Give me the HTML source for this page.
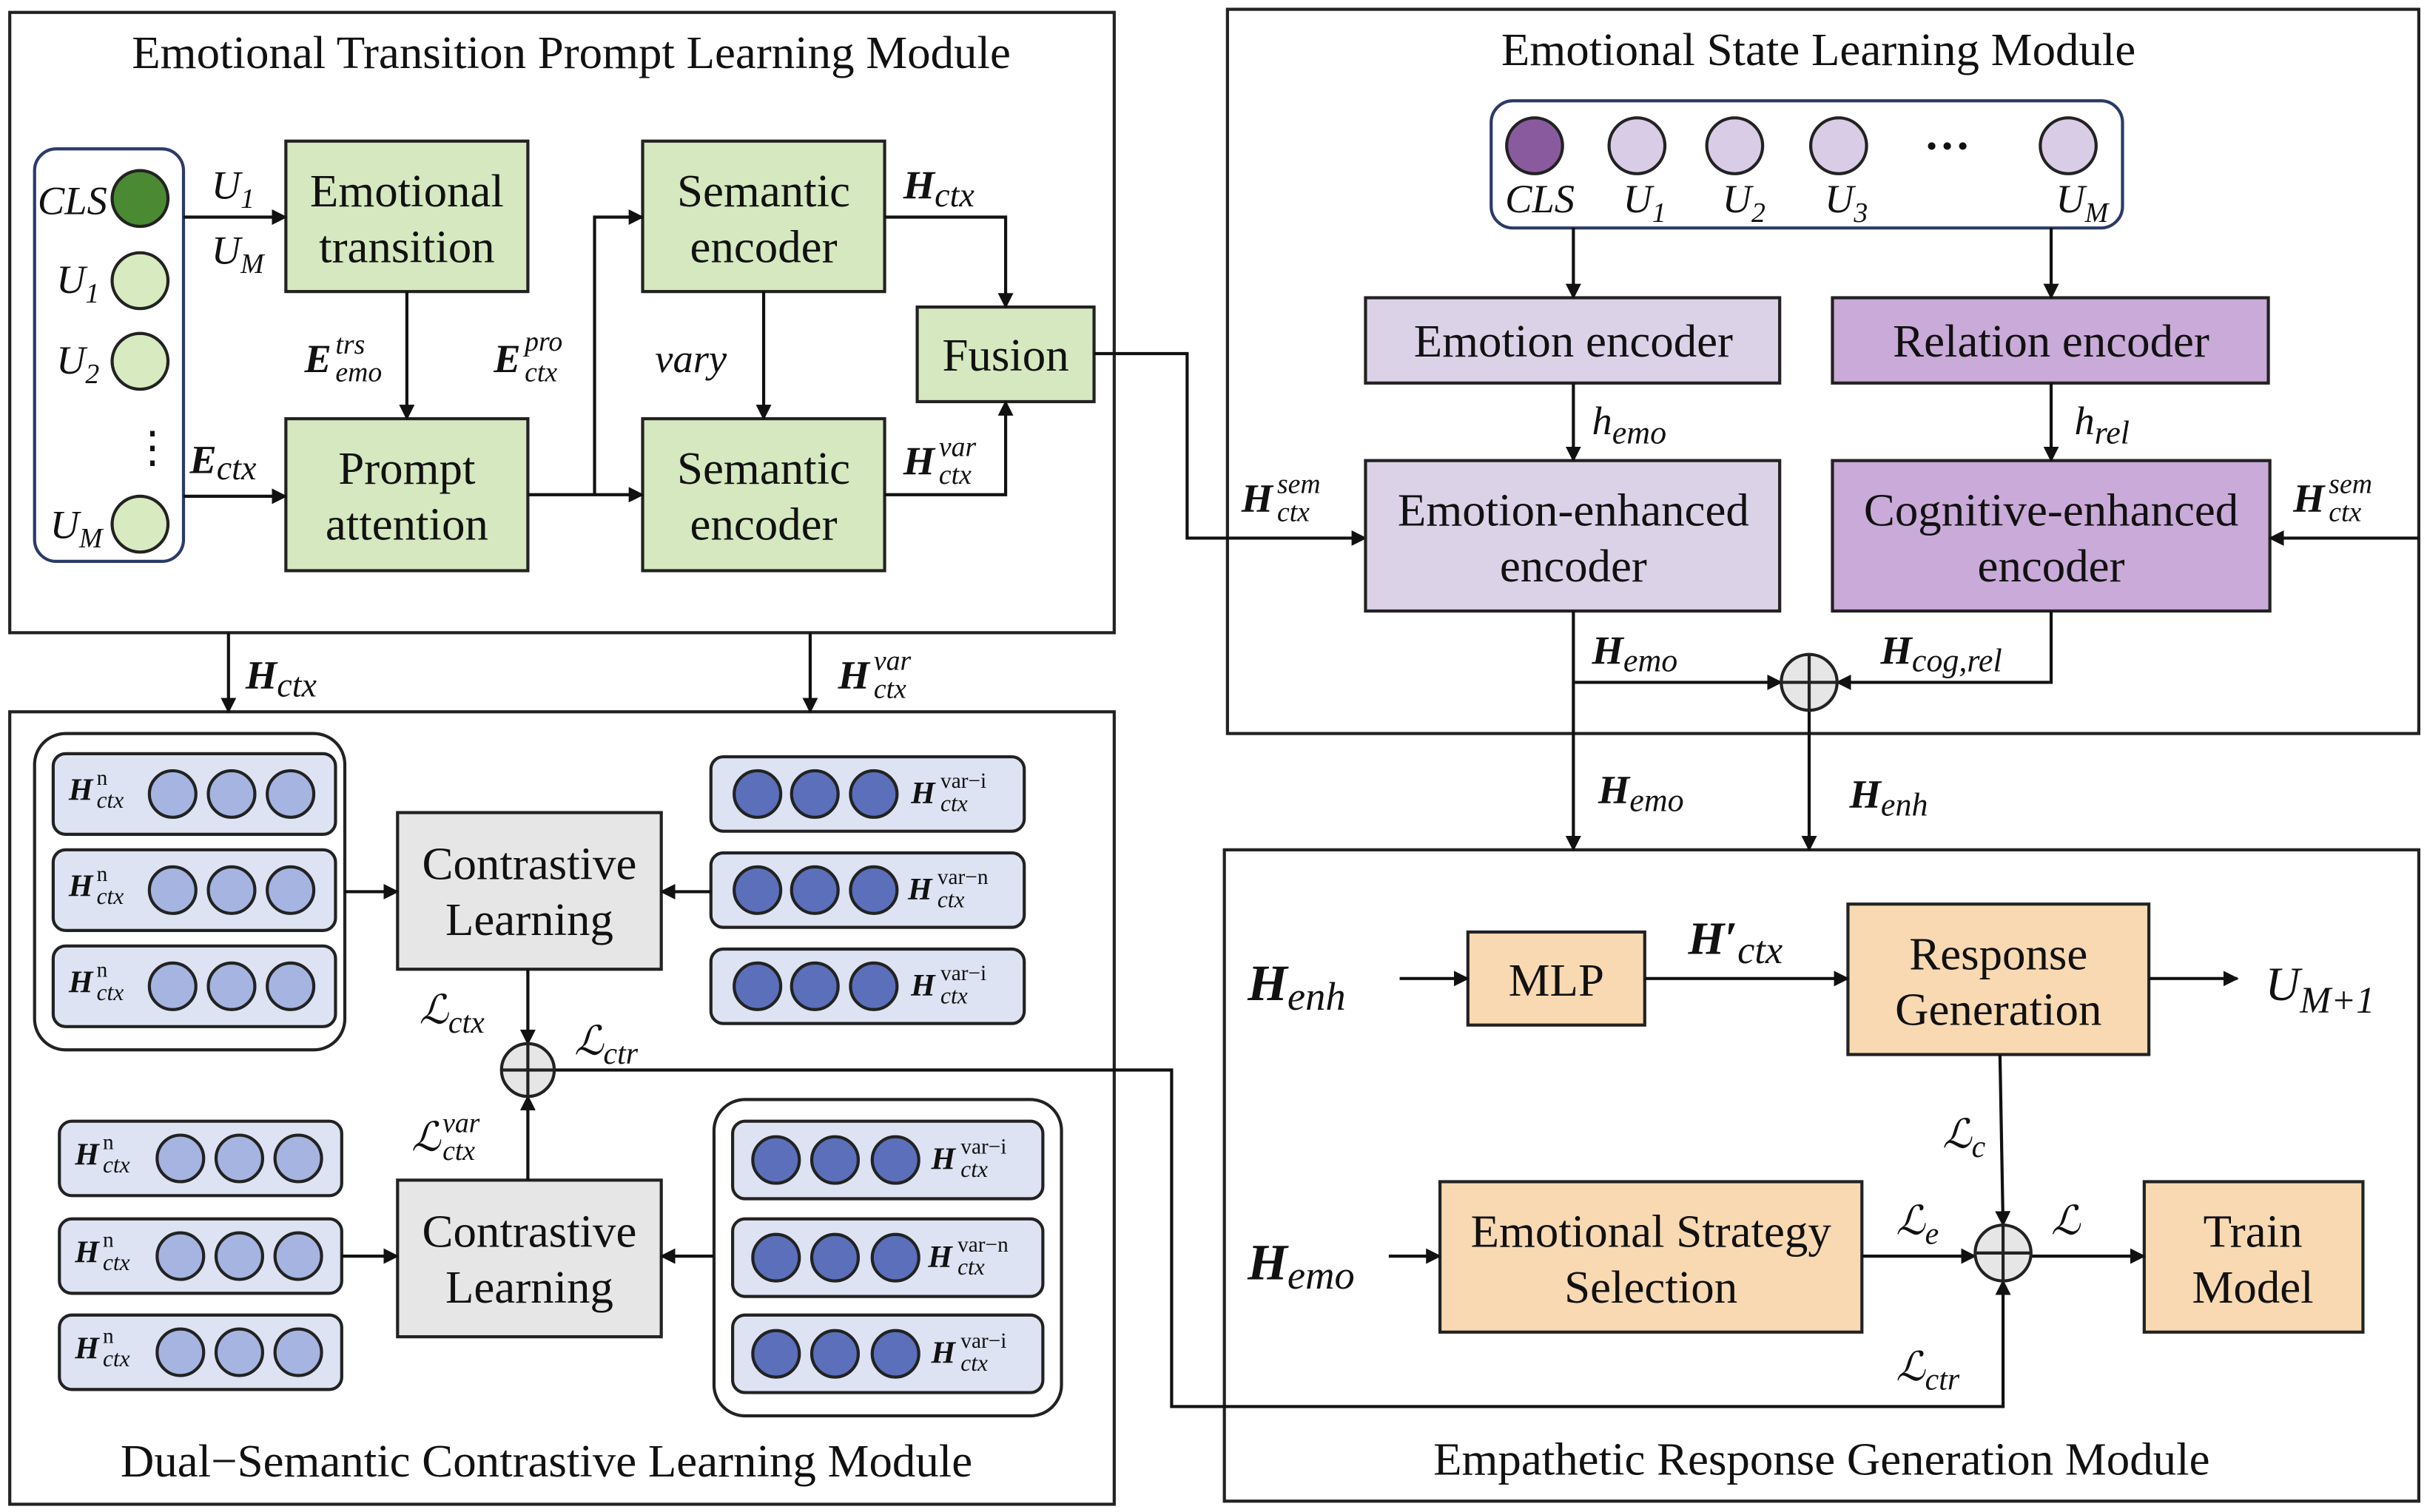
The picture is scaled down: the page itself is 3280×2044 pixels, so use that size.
<!DOCTYPE html>
<html><head><meta charset="utf-8"><style>
html,body{margin:0;padding:0;background:#fff;}
svg{display:block;}
text{font-family:"Liberation Serif","DejaVu Serif",serif;fill:#111;}
.t{font-size:30px;text-anchor:middle;}
.m{font-style:italic;font-size:26px;}
.b{font-weight:bold;font-style:italic;}
.s{font-size:18px;font-style:italic;}
</style></head><body>
<svg width="3280" height="2044" viewBox="0 0 1564 975" xmlns="http://www.w3.org/2000/svg" font-family="Liberation Serif, serif">
<defs><marker id="a" markerWidth="10" markerHeight="10" refX="9" refY="5" orient="auto" markerUnits="userSpaceOnUse"><path d="M0,0 L10,5 L0,10 z" fill="#111"/></marker></defs>
<g fill="none" stroke="#222" stroke-width="2">
<rect x="6" y="8" width="712" height="400"/>
<rect x="6" y="459" width="712" height="511"/>
<rect x="791" y="6" width="768" height="467"/>
<rect x="789" y="548" width="770" height="420"/>
<rect x="22" y="96" width="96" height="266" rx="14" stroke="#2b3a6a"/>
<rect x="961" y="65" width="407" height="82" rx="14" stroke="#2b3a6a"/>
<rect x="22" y="473" width="200" height="204" rx="20"/>
<rect x="460" y="709" width="224" height="204" rx="20"/>
</g>
<text class="t" x="368" y="44">Emotional Transition Prompt Learning Module</text>
<text class="t" x="352" y="952">Dual−Semantic Contrastive Learning Module</text>
<text class="t" x="1172" y="42">Emotional State Learning Module</text>
<text class="t" x="1174" y="951">Empathetic Response Generation Module</text>

<g stroke="#222" stroke-width="2">
<circle cx="90" cy="128" r="18" fill="#4a8a32"/>
<circle cx="90" cy="181" r="18" fill="#d7eac0"/>
<circle cx="90" cy="233" r="18" fill="#d7eac0"/>
<circle cx="90" cy="338" r="18" fill="#d7eac0"/>
</g>
<text class="m" x="24" y="138">CLS</text>
<text class="m" x="36" y="189">U<tspan class="s" dy="6">1</tspan></text>
<text class="m" x="36" y="241">U<tspan class="s" dy="6">2</tspan></text>
<text x="84" y="298" style="font-size:28px">⋮</text>
<text class="m" x="32" y="347">U<tspan class="s" dy="6">M</tspan></text>

<g stroke="#222" stroke-width="2" fill="#d5e8bf">
<rect x="184" y="91" width="156" height="97"/>
<rect x="184" y="270" width="156" height="98"/>
<rect x="414" y="91" width="156" height="97"/>
<rect x="414" y="270" width="156" height="98"/>
<rect x="591" y="198" width="114" height="61"/>
</g>
<text class="t" x="262" y="133">Emotional</text><text class="t" x="262" y="169">transition</text>
<text class="t" x="262" y="312">Prompt</text><text class="t" x="262" y="348">attention</text>
<text class="t" x="492" y="133">Semantic</text><text class="t" x="492" y="169">encoder</text>
<text class="t" x="492" y="312">Semantic</text><text class="t" x="492" y="348">encoder</text>
<text class="t" x="648" y="239">Fusion</text>

<g stroke="#111" stroke-width="2" fill="none" marker-end="url(#a)">
<path d="M118,140 H184"/>
<path d="M118,320 H184"/>
<path d="M262,188 V270"/>
<path d="M340,319 H414"/>
<path d="M383,319 V140 H414"/>
<path d="M492,188 V270"/>
<path d="M570,140 H648 V198"/>
<path d="M570,319 H648 V259"/>
<path d="M705,228 H765 V347 H880"/>
<path d="M147,408 V459"/>
<path d="M522,408 V459"/>
</g>
<text class="m" x="136" y="128">U<tspan class="s" dy="6">1</tspan></text>
<text class="m" x="136" y="170">U<tspan class="s" dy="6">M</tspan></text>
<text class="m b" x="122" y="305">E<tspan class="s" dy="4" style="font-size:22px;font-weight:normal">ctx</tspan></text>
<text class="m b" x="196" y="240">E</text><text class="s" x="216" y="228">trs</text><text class="s" x="216" y="246">emo</text>
<text class="m b" x="318" y="240">E</text><text class="s" x="338" y="226">pro</text><text class="s" x="338" y="246">ctx</text>
<text class="m" x="422" y="240">vary</text>
<text class="m b" x="582" y="128">H<tspan class="s" dy="5" style="font-size:22px;font-weight:normal">ctx</tspan></text>
<text class="m b" x="582" y="306">H</text><text class="s" x="605" y="294">var</text><text class="s" x="605" y="312">ctx</text>
<text class="m b" x="158" y="444">H<tspan class="s" dy="5" style="font-size:22px;font-weight:normal">ctx</tspan></text>
<text class="m b" x="540" y="444">H</text><text class="s" x="563" y="432">var</text><text class="s" x="563" y="450">ctx</text>

<g stroke="#222" stroke-width="2">
<rect x="34" y="486" width="182" height="52" rx="8" fill="#dde3f2"/>
<rect x="34" y="548" width="182" height="52" rx="8" fill="#dde3f2"/>
<rect x="34" y="610" width="182" height="52" rx="8" fill="#dde3f2"/>
<rect x="458" y="488" width="202" height="48" rx="8" fill="#dde3f2"/>
<rect x="458" y="550" width="202" height="48" rx="8" fill="#dde3f2"/>
<rect x="458" y="612" width="202" height="48" rx="8" fill="#dde3f2"/>
<rect x="38" y="723" width="182" height="48" rx="8" fill="#dde3f2"/>
<rect x="38" y="786" width="182" height="48" rx="8" fill="#dde3f2"/>
<rect x="38" y="848" width="182" height="48" rx="8" fill="#dde3f2"/>
<rect x="472" y="723" width="200" height="50" rx="8" fill="#dde3f2"/>
<rect x="472" y="786" width="200" height="50" rx="8" fill="#dde3f2"/>
<rect x="472" y="848" width="200" height="50" rx="8" fill="#dde3f2"/>
<g fill="#a5b4e0">
<circle cx="111" cy="512" r="15"/><circle cx="149" cy="512" r="15"/><circle cx="187" cy="512" r="15"/>
<circle cx="111" cy="574" r="15"/><circle cx="149" cy="574" r="15"/><circle cx="187" cy="574" r="15"/>
<circle cx="111" cy="636" r="15"/><circle cx="149" cy="636" r="15"/><circle cx="187" cy="636" r="15"/>
<circle cx="116" cy="747" r="15"/><circle cx="154" cy="747" r="15"/><circle cx="192" cy="747" r="15"/>
<circle cx="116" cy="810" r="15"/><circle cx="154" cy="810" r="15"/><circle cx="192" cy="810" r="15"/>
<circle cx="116" cy="872" r="15"/><circle cx="154" cy="872" r="15"/><circle cx="192" cy="872" r="15"/>
</g>
<g fill="#5b6fba">
<circle cx="488" cy="512" r="15"/><circle cx="525" cy="512" r="15"/><circle cx="563" cy="512" r="15"/>
<circle cx="488" cy="574" r="15"/><circle cx="525" cy="574" r="15"/><circle cx="563" cy="574" r="15"/>
<circle cx="488" cy="636" r="15"/><circle cx="525" cy="636" r="15"/><circle cx="563" cy="636" r="15"/>
<circle cx="500" cy="748" r="15"/><circle cx="538" cy="748" r="15"/><circle cx="577" cy="748" r="15"/>
<circle cx="500" cy="811" r="15"/><circle cx="538" cy="811" r="15"/><circle cx="577" cy="811" r="15"/>
<circle cx="500" cy="873" r="15"/><circle cx="538" cy="873" r="15"/><circle cx="577" cy="873" r="15"/>
</g>
<rect x="256" y="524" width="170" height="101" fill="#e6e6e6"/>
<rect x="256" y="761" width="170" height="101" fill="#e6e6e6"/>
</g>
<g style="font-size:20px">
<text x="44" y="516" class="b">H</text><text x="62" y="506" style="font-size:14px">n</text><text x="62" y="521" class="s" style="font-size:15px">ctx</text>
<text x="44" y="578" class="b">H</text><text x="62" y="568" style="font-size:14px">n</text><text x="62" y="583" class="s" style="font-size:15px">ctx</text>
<text x="44" y="640" class="b">H</text><text x="62" y="630" style="font-size:14px">n</text><text x="62" y="645" class="s" style="font-size:15px">ctx</text>
<text x="48" y="751" class="b">H</text><text x="66" y="741" style="font-size:14px">n</text><text x="66" y="756" class="s" style="font-size:15px">ctx</text>
<text x="48" y="814" class="b">H</text><text x="66" y="804" style="font-size:14px">n</text><text x="66" y="819" class="s" style="font-size:15px">ctx</text>
<text x="48" y="876" class="b">H</text><text x="66" y="866" style="font-size:14px">n</text><text x="66" y="881" class="s" style="font-size:15px">ctx</text>
<text x="587" y="518" class="b">H</text><text x="606" y="508" style="font-size:14px">var−i</text><text x="606" y="523" class="s" style="font-size:15px">ctx</text>
<text x="585" y="580" class="b">H</text><text x="604" y="570" style="font-size:14px">var−n</text><text x="604" y="585" class="s" style="font-size:15px">ctx</text>
<text x="587" y="642" class="b">H</text><text x="606" y="632" style="font-size:14px">var−i</text><text x="606" y="647" class="s" style="font-size:15px">ctx</text>
<text x="600" y="754" class="b">H</text><text x="619" y="744" style="font-size:14px">var−i</text><text x="619" y="759" class="s" style="font-size:15px">ctx</text>
<text x="598" y="817" class="b">H</text><text x="617" y="807" style="font-size:14px">var−n</text><text x="617" y="822" class="s" style="font-size:15px">ctx</text>
<text x="600" y="879" class="b">H</text><text x="619" y="869" style="font-size:14px">var−i</text><text x="619" y="884" class="s" style="font-size:15px">ctx</text>
</g>
<text class="t" x="341" y="567">Contrastive</text><text class="t" x="341" y="603">Learning</text>
<text class="t" x="341" y="804">Contrastive</text><text class="t" x="341" y="840">Learning</text>

<g stroke="#111" stroke-width="2" fill="none" marker-end="url(#a)">
<path d="M222,575 H256"/>
<path d="M458,575 H426"/>
<path d="M220,810 H256"/>
<path d="M460,810 H426"/>
<path d="M340,625 V673"/>
<path d="M340,761 V707"/>
<path d="M357,690 H755 V907 H1291 V826"/>
</g>
<circle cx="340" cy="690" r="17" fill="#e6e6e6" stroke="#222" stroke-width="2"/>
<path d="M323,690 H357 M340,673 V707" stroke="#222" stroke-width="2"/>
<text class="m" x="270" y="660">ℒ<tspan class="s" dy="6" style="font-size:20px">ctx</tspan></text>
<text class="m" x="370" y="680">ℒ<tspan class="s" dy="6" style="font-size:20px">ctr</tspan></text>
<text class="m" x="265" y="742">ℒ</text><text class="s" x="285" y="730">var</text><text class="s" x="285" y="748">ctx</text>

<g stroke="#222" stroke-width="2">
<circle cx="989" cy="94" r="18" fill="#8a5a9e"/>
<circle cx="1055" cy="94" r="18" fill="#d8cce6"/>
<circle cx="1118" cy="94" r="18" fill="#d8cce6"/>
<circle cx="1185" cy="94" r="18" fill="#d8cce6"/>
<circle cx="1333" cy="94" r="18" fill="#d8cce6"/>
<rect x="880" y="192" width="267" height="55" fill="#dcd2e8"/>
<rect x="1181" y="192" width="281" height="55" fill="#c9aad8"/>
<rect x="880" y="297" width="267" height="97" fill="#dcd2e8"/>
<rect x="1181" y="297" width="282" height="97" fill="#c9aad8"/>
</g>
<text x="1240" y="104" style="font-size:30px;font-weight:bold">···</text>
<text class="m" x="970" y="137">CLS</text>
<text class="m" x="1046" y="137">U<tspan class="s" dy="6">1</tspan></text>
<text class="m" x="1110" y="137">U<tspan class="s" dy="6">2</tspan></text>
<text class="m" x="1176" y="137">U<tspan class="s" dy="6">3</tspan></text>
<text class="m" x="1325" y="137">U<tspan class="s" dy="6">M</tspan></text>
<text class="t" x="1014" y="230">Emotion encoder</text>
<text class="t" x="1322" y="230">Relation encoder</text>
<text class="t" x="1014" y="339">Emotion-enhanced</text><text class="t" x="1014" y="375">encoder</text>
<text class="t" x="1322" y="339">Cognitive-enhanced</text><text class="t" x="1322" y="375">encoder</text>
<g stroke="#111" stroke-width="2" fill="none" marker-end="url(#a)">
<path d="M1014,147 V192"/>
<path d="M1322,147 V192"/>
<path d="M1014,247 V297"/>
<path d="M1322,247 V297"/>
<path d="M1559,347 H1463"/>
<path d="M1014,394 V548"/>
<path d="M1014,440 H1148"/>
<path d="M1322,394 V440 H1184"/>
<path d="M1166,458 V548"/>
</g>
<circle cx="1166" cy="440" r="18" fill="#e6e6e6" stroke="#222" stroke-width="2"/>
<path d="M1148,440 H1184 M1166,422 V458" stroke="#222" stroke-width="2"/>
<text class="m" x="1026" y="280">h<tspan class="s" dy="6" style="font-size:21px">emo</tspan></text>
<text class="m" x="1337" y="280">h<tspan class="s" dy="6" style="font-size:21px">rel</tspan></text>
<text class="m b" x="800" y="330">H</text><text class="s" x="823" y="318">sem</text><text class="s" x="823" y="336">ctx</text>
<text class="m b" x="1478" y="330">H</text><text class="s" x="1501" y="318">sem</text><text class="s" x="1501" y="336">ctx</text>
<text class="m b" x="1026" y="428">H<tspan class="s" dy="5" style="font-size:21px;font-weight:normal">emo</tspan></text>
<text class="m b" x="1212" y="428">H<tspan class="s" dy="5" style="font-size:21px;font-weight:normal">cog,rel</tspan></text>
<text class="m b" x="1030" y="518">H<tspan class="s" dy="5" style="font-size:21px;font-weight:normal">emo</tspan></text>
<text class="m b" x="1192" y="521">H<tspan class="s" dy="5" style="font-size:21px;font-weight:normal">enh</tspan></text>

<g stroke="#222" stroke-width="2" fill="#f8d9b2">
<rect x="946" y="601" width="114" height="60"/>
<rect x="1191" y="583" width="194" height="97"/>
<rect x="928" y="762" width="272" height="97"/>
<rect x="1382" y="762" width="141" height="97"/>
</g>
<text class="t" x="1003" y="642">MLP</text>
<text class="t" x="1288" y="625">Response</text><text class="t" x="1288" y="661">Generation</text>
<text class="t" x="1064" y="804">Emotional Strategy</text><text class="t" x="1064" y="840">Selection</text>
<text class="t" x="1452" y="804">Train</text><text class="t" x="1452" y="840">Model</text>
<g stroke="#111" stroke-width="2" fill="none" marker-end="url(#a)">
<path d="M902,631 H946"/>
<path d="M1060,631 H1191"/>
<path d="M1385,631 H1442"/>
<path d="M1289,680 L1291,790"/>
<path d="M895,810 H928"/>
<path d="M1200,810 H1273"/>
<path d="M1309,810 H1382"/>
</g>
<circle cx="1291" cy="808" r="18" fill="#e6e6e6" stroke="#222" stroke-width="2"/>
<path d="M1273,808 H1309 M1291,790 V826" stroke="#222" stroke-width="2"/>
<text class="m b" x="804" y="645" style="font-size:33px">H<tspan class="s" dy="6" style="font-size:26px;font-weight:normal">enh</tspan></text>
<text class="m b" x="804" y="825" style="font-size:33px">H<tspan class="s" dy="6" style="font-size:26px;font-weight:normal">emo</tspan></text>
<text class="m b" x="1088" y="615" style="font-size:30px">H′<tspan class="s" dy="6" style="font-size:25px;font-weight:normal">ctx</tspan></text>
<text class="m" x="1460" y="645" style="font-size:31px">U<tspan class="s" dy="8" style="font-size:24px">M+1</tspan></text>
<text class="m" x="1252" y="740">ℒ<tspan class="s" dy="6" style="font-size:20px">c</tspan></text>
<text class="m" x="1222" y="796">ℒ<tspan class="s" dy="6" style="font-size:20px">e</tspan></text>
<text class="m" x="1322" y="796">ℒ</text>
<text class="m" x="1222" y="890">ℒ<tspan class="s" dy="6" style="font-size:20px">ctr</tspan></text>
</svg>
</body></html>
